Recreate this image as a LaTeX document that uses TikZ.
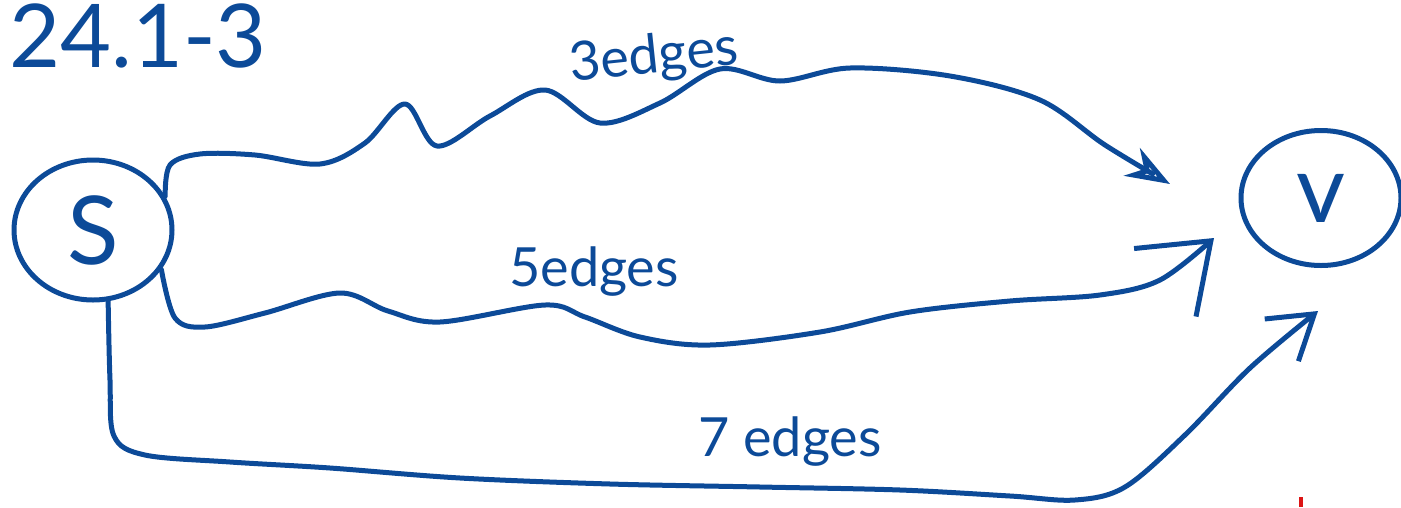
\documentclass[tikz,border=0pt]{standalone}
\usepackage{fontspec}
\setmainfont{Lato}
\usetikzlibrary{arrows.meta,shapes.geometric}
\definecolor{ink}{RGB}{12,74,152}
\definecolor{redmark}{RGB}{220,20,20}
\begin{document}
\begin{tikzpicture}[x=1pt,y=-1pt,
  stroke/.style={draw=ink, line width=5pt, line cap=round, line join=round},
  vertex/.style={stroke, ellipse, inner sep=0pt, text=ink, font=\fontsize{95}{95}\selectfont},
  lbl/.style={text=ink, inner sep=0pt, font=\fontsize{54}{54}\selectfont},
  barb/.style={-{Straight Barb[length=62pt,width=92pt,line width=5pt]}},
  smallbarb/.style={-{Straight Barb[length=42pt,width=54pt,line width=5pt]}},
  tri/.style={-{Stealth[length=44pt,width=32pt,open,line width=5pt]}}]
\useasboundingbox (0,0) rectangle (1401,507);
% title
\node[text=ink, inner sep=0pt, font=\fontsize{88}{88}\selectfont] (title) at (138,36) {24.1-3};
% vertices
\node[vertex, minimum width=158pt, minimum height=140pt] (S) at (93,230) {S};
\node[vertex, minimum width=160pt, minimum height=135pt] (V) at (1321,198) {v};
% free ends
\coordinate (t1) at (1170,184);
\coordinate (t2) at (1214,238);
\coordinate (t3) at (1318,311);
% top path (3 edges)
\draw[stroke, tri] plot[smooth, tension=0.55] coordinates {(S.25) (170,165) (200,154) (255,155) (320,164) (365,143) (405,104) (437,146) (490,116) (545,90) (600,123) (660,103) (720,69) (780,81) (850,68) (950,76) (1040,100) (1105,145) (t1)};
% middle path (5 edges)
\draw[stroke, barb] plot[smooth, tension=0.55] coordinates {(S.-30) (175,318) (205,327) (265,313) (340,293) (388,311) (440,322) (545,305) (585,317) (640,337) (710,345) (820,332) (910,312) (1010,301) (1100,295) (1160,280) (t2)};
% bottom path (7 edges)
\draw[stroke, smallbarb] plot[smooth, tension=0.55] coordinates {(S.-78) (110,380) (114,436) (145,455) (230,462) (330,468) (460,478) (610,484) (760,487) (900,490) (1010,496) (1075,500) (1125,487) (1185,435) (1250,368) (t3)};
% labels
\node[lbl, rotate=6] (l3) at (654,58) {3edges};
\node[lbl] (l5) at (594,272) {5edges};
\node[lbl] (l7) at (790,442) {7 edges};
% red mark
\draw[draw=redmark, line width=4pt] (1301,497) -- (1301,507);
\end{tikzpicture}
\end{document}
